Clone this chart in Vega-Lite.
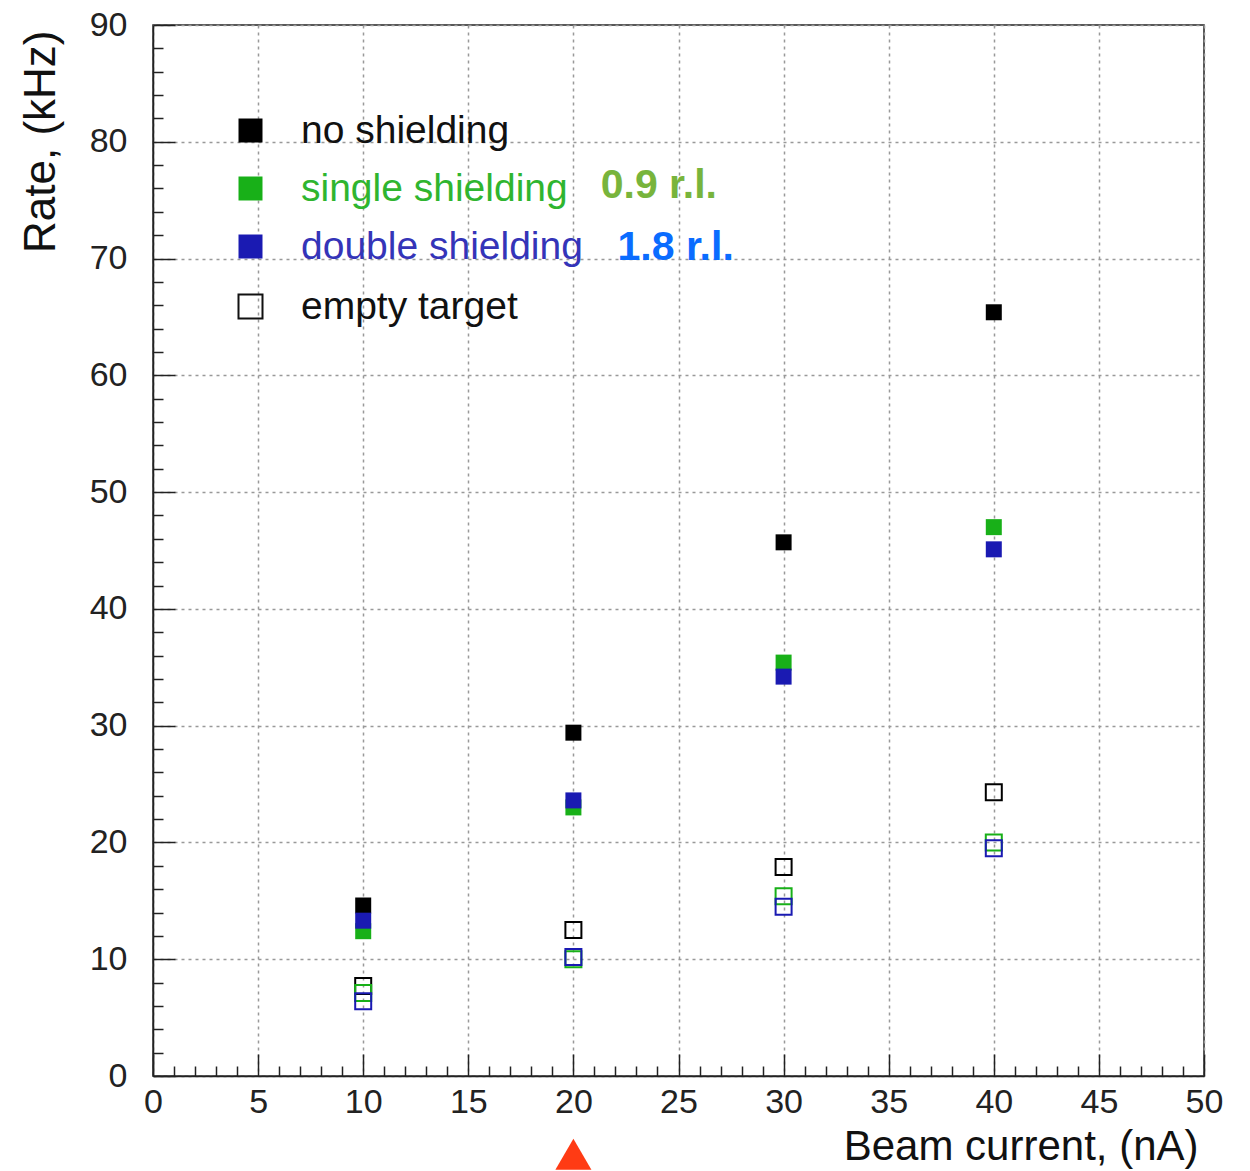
{
  "$schema": "https://vega.github.io/schema/vega-lite/v6.json",
  "autosize": {"type": "none"},
  "padding": {"left": 153, "top": 25, "right": 46, "bottom": 95},
  "width": 1051,
  "height": 1051,
  "background": "white",
  "config": {
    "view": {"stroke": "#222", "strokeWidth": 1.5},
    "font": "Liberation Sans"
  },
  "data": {
    "values": [
      {"current": 10, "rate": 14.6, "shielding": "no shielding", "target": "full"},
      {"current": 20, "rate": 29.4, "shielding": "no shielding", "target": "full"},
      {"current": 30, "rate": 45.7, "shielding": "no shielding", "target": "full"},
      {"current": 40, "rate": 65.4, "shielding": "no shielding", "target": "full"},
      {"current": 10, "rate": 12.4, "shielding": "single shielding", "target": "full"},
      {"current": 20, "rate": 23.0, "shielding": "single shielding", "target": "full"},
      {"current": 30, "rate": 35.4, "shielding": "single shielding", "target": "full"},
      {"current": 40, "rate": 47.0, "shielding": "single shielding", "target": "full"},
      {"current": 10, "rate": 13.3, "shielding": "double shielding", "target": "full"},
      {"current": 20, "rate": 23.6, "shielding": "double shielding", "target": "full"},
      {"current": 30, "rate": 34.2, "shielding": "double shielding", "target": "full"},
      {"current": 40, "rate": 45.1, "shielding": "double shielding", "target": "full"},
      {"current": 10, "rate": 7.7, "shielding": "no shielding", "target": "empty"},
      {"current": 20, "rate": 12.5, "shielding": "no shielding", "target": "empty"},
      {"current": 30, "rate": 17.9, "shielding": "no shielding", "target": "empty"},
      {"current": 40, "rate": 24.3, "shielding": "no shielding", "target": "empty"},
      {"current": 10, "rate": 7.1, "shielding": "single shielding", "target": "empty"},
      {"current": 20, "rate": 10.0, "shielding": "single shielding", "target": "empty"},
      {"current": 30, "rate": 15.4, "shielding": "single shielding", "target": "empty"},
      {"current": 40, "rate": 20.0, "shielding": "single shielding", "target": "empty"},
      {"current": 10, "rate": 6.4, "shielding": "double shielding", "target": "empty"},
      {"current": 20, "rate": 10.2, "shielding": "double shielding", "target": "empty"},
      {"current": 30, "rate": 14.5, "shielding": "double shielding", "target": "empty"},
      {"current": 40, "rate": 19.5, "shielding": "double shielding", "target": "empty"}
    ]
  },
  "layer": [
    {
      "transform": [{"filter": "datum.target === 'full'"}],
      "mark": {"type": "point", "shape": "square", "filled": true, "size": 256, "opacity": 1},
      "encoding": {
        "x": {
          "field": "current", "type": "quantitative",
          "scale": {"domain": [0, 50], "nice": false, "zero": false},
          "axis": {
            "orient": "bottom",
            "values": [0, 5, 10, 15, 20, 25, 30, 35, 40, 45, 50],
            "tickSize": -22, "tickColor": "#222", "tickWidth": 1.5,
            "grid": true, "gridDash": [3, 4], "gridColor": "#999", "gridWidth": 1.5,
            "domain": true, "domainColor": "#222", "domainWidth": 1.5,
            "labelFont": "Liberation Sans", "labelFontSize": 34, "labelColor": "#222",
            "labelPadding": 31, "labelFlush": false, "labelOverlap": false,
            "title": "Beam current, (nA)",
            "titleFont": "Liberation Sans", "titleFontSize": 42, "titleFontWeight": "normal", "titleColor": "#111",
            "titleAlign": "right", "titleBaseline": "alphabetic", "titleAnchor": "end",
            "titleX": 1045, "titleY": 83
          }
        },
        "y": {
          "field": "rate", "type": "quantitative",
          "scale": {"domain": [0, 90], "nice": false, "zero": false},
          "axis": {
            "orient": "left",
            "values": [0, 10, 20, 30, 40, 50, 60, 70, 80, 90],
            "tickSize": -22, "tickColor": "#222", "tickWidth": 1.5,
            "grid": true, "gridDash": [3, 4], "gridColor": "#999", "gridWidth": 1.5,
            "domain": true, "domainColor": "#222", "domainWidth": 1.5,
            "labelFont": "Liberation Sans", "labelFontSize": 34, "labelColor": "#222",
            "labelPadding": 48, "labelFlush": false, "labelOverlap": false,
            "title": "Rate, (kHz)",
            "titleFont": "Liberation Sans", "titleFontSize": 44, "titleFontWeight": "normal", "titleColor": "#111",
            "titleAngle": -90, "titleAlign": "right", "titleBaseline": "alphabetic", "titleAnchor": "end",
            "titleX": -99, "titleY": 5
          }
        },
        "color": {
          "field": "shielding", "type": "nominal",
          "scale": {
            "domain": ["no shielding", "single shielding", "double shielding"],
            "range": ["#000000", "#18b018", "#1a1ab2"]
          },
          "legend": {
            "orient": "none", "legendX": 78, "legendY": 86,
            "title": null, "padding": 0,
            "symbolType": "square", "symbolSize": 576, "symbolStrokeWidth": 0,
            "labelFont": "Liberation Sans", "labelFontSize": 39, "labelOffset": 31,
            "rowPadding": 18, "labelLimit": 600,
            "labelColor": {"expr": "datum.value === 'single shielding' ? '#2fb52f' : datum.value === 'double shielding' ? '#3434b8' : '#111'"}
          }
        }
      }
    },
    {
      "transform": [{"filter": "datum.target === 'empty'"}],
      "mark": {"type": "point", "filled": false, "size": 256, "strokeWidth": 2, "opacity": 1},
      "encoding": {
        "x": {
          "field": "current", "type": "quantitative",
          "axis": {
            "orient": "bottom",
            "values": [1,2,3,4,6,7,8,9,11,12,13,14,16,17,18,19,21,22,23,24,26,27,28,29,31,32,33,34,36,37,38,39,41,42,43,44,46,47,48,49],
            "tickSize": -10, "tickColor": "#222", "tickWidth": 1.5,
            "labels": false, "grid": false, "domain": false, "title": null
          }
        },
        "y": {
          "field": "rate", "type": "quantitative",
          "axis": {
            "orient": "left",
            "values": [2,4,6,8,12,14,16,18,22,24,26,28,32,34,36,38,42,44,46,48,52,54,56,58,62,64,66,68,72,74,76,78,82,84,86,88],
            "tickSize": -10, "tickColor": "#222", "tickWidth": 1.5,
            "labels": false, "grid": false, "domain": false, "title": null
          }
        },
        "color": {"field": "shielding", "type": "nominal"},
        "shape": {
          "datum": "empty target", "type": "nominal",
          "scale": {"domain": ["empty target"], "range": ["square"]},
          "legend": {
            "orient": "none", "legendX": 78, "legendY": 262,
            "title": null, "padding": 0,
            "symbolSize": 576, "symbolStrokeWidth": 2,
            "symbolStrokeColor": "#111", "symbolFillColor": "white",
            "labelFont": "Liberation Sans", "labelFontSize": 39, "labelOffset": 31,
            "labelLimit": 600, "labelColor": "#111"
          }
        }
      }
    },
    {
      "data": {"values": [{"label": "0.9 r.l."}]},
      "mark": {"type": "text", "font": "Liberation Sans", "fontSize": 41, "fontWeight": "bold", "align": "left", "baseline": "middle", "color": "#78b43c"},
      "encoding": {
        "text": {"field": "label"},
        "x": {"datum": 21.3, "type": "quantitative", "axis": null},
        "y": {"datum": 76.2, "type": "quantitative", "axis": null}
      }
    },
    {
      "data": {"values": [{"label": "1.8 r.l."}]},
      "mark": {"type": "text", "font": "Liberation Sans", "fontSize": 41, "fontWeight": "bold", "align": "left", "baseline": "middle", "color": "#0a6cff"},
      "encoding": {
        "text": {"field": "label"},
        "x": {"datum": 22.1, "type": "quantitative", "axis": null},
        "y": {"datum": 70.9, "type": "quantitative", "axis": null}
      }
    },
    {
      "data": {"values": [{"marker": "beam"}]},
      "mark": {"type": "point", "shape": "triangle-up", "filled": true, "size": 1300, "color": "#ff3b14", "opacity": 1},
      "encoding": {
        "x": {"datum": 20, "type": "quantitative", "axis": null},
        "y": {"datum": -6.7, "type": "quantitative", "axis": null}
      }
    }
  ],
  "resolve": {"axis": {"x": "independent", "y": "independent"}}
}
